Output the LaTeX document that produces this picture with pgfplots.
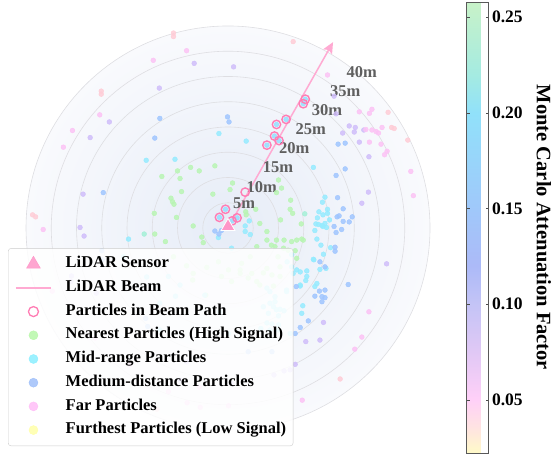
\documentclass[border=0pt]{standalone}
\usepackage{fontspec}
\setmainfont{Liberation Serif}
\usepackage{pgfplots}
\pgfplotsset{compat=1.18}
\usetikzlibrary{arrows.meta}
\definecolor{cgreen}{RGB}{185,245,180}
\definecolor{cteal}{RGB}{165,240,215}
\definecolor{ccyan}{RGB}{150,235,255}
\definecolor{cblue}{RGB}{160,198,255}
\definecolor{clav}{RGB}{208,190,250}
\definecolor{cpink}{RGB}{252,195,245}
\definecolor{cred}{RGB}{255,205,215}
\definecolor{cyel}{RGB}{255,255,170}
\definecolor{lgreen}{RGB}{185,248,170}
\definecolor{lcyan}{RGB}{140,240,255}
\definecolor{lblue}{RGB}{160,192,250}
\definecolor{lpink}{RGB}{255,190,248}
\definecolor{sensorpink}{RGB}{255,150,200}
\definecolor{beampink}{RGB}{255,170,210}
\definecolor{circpink}{RGB}{255,125,180}
\definecolor{ringgray}{RGB}{222,222,226}
\definecolor{labgray}{RGB}{95,95,95}
\definecolor{bgin}{RGB}{230,236,247}
\definecolor{bgout}{RGB}{249,250,253}
\tikzset{rlab/.style={font=\fontsize{16.5}{18}\selectfont\bfseries, text=labgray, inner sep=0pt}}
\begin{document}
\begin{tikzpicture}
\begin{axis}[
  at={(0pt,0pt)}, anchor=south west,
  x=5.05pt, y=5.05pt,
  xmin=-45.15, xmax=40.6, ymin=-45.35, ymax=45.15,
  hide axis, clip=false,
  point meta min=0.0224, point meta max=0.2578,
  colormap={pastel}{rgb255(0pt)=(255,250,200); rgb255(55pt)=(255,228,225); rgb255(119pt)=(255,208,248); rgb255(225pt)=(224,200,245); rgb255(330pt)=(196,196,246); rgb255(415pt)=(172,186,248); rgb255(540pt)=(160,200,250); rgb255(754pt)=(145,225,250); rgb255(840pt)=(165,235,225); rgb255(1000pt)=(200,242,200)},
  colorbar,
  colorbar style={
    at={(parent axis.north east)}, anchor=north west, xshift=25pt, yshift=-2pt,
    width=22pt, height=451pt, scale only axis,
    ytick={0.05,0.10,0.15,0.20,0.25},
    yticklabel style={font=\fontsize{17.5}{20}\selectfont\bfseries, /pgf/number format/.cd, fixed, fixed zerofill, precision=2, assume math mode=true},
    ylabel={Monte Carlo Attenuation Factor},
    ylabel style={font=\fontsize{20.5}{24}\selectfont\bfseries, rotate=180},
    ylabel shift=7pt,
    axis line style={draw=black!65},
    major tick length=3pt, tick style={black!70},
  },
  legend cell align=left,
  legend style={at={(axis description cs:0.0185,0.457)}, anchor=north west,
    draw=black!20, fill=white, fill opacity=0.85, text opacity=1, rounded corners=3pt,
    font=\fontsize{16.5}{19}\selectfont\bfseries,
    inner xsep=7pt, inner ysep=4pt, row sep=0pt,
    nodes={inner sep=0pt, text height=15.5pt, text depth=8.2pt},
    /tikz/every odd column/.append style={column sep=14pt}},
]
% legend entries
\addlegendimage{legend image code/.code={\draw[sensorpink, mark=triangle*, mark size=8pt] plot coordinates {(17.5pt,0pt)};}}
\addlegendentry{LiDAR Sensor}
\addlegendimage{legend image code/.code={\draw[beampink, line width=1.5pt] (0pt,0pt) -- (35pt,0pt);}}
\addlegendentry{LiDAR Beam}
\addlegendimage{legend image code/.code={\draw[circpink, line width=1.3pt, mark=o, mark size=5pt] plot coordinates {(17.5pt,0pt)};}}
\addlegendentry{Particles in Beam Path}
\addlegendimage{legend image code/.code={\draw[lgreen, mark=*, mark size=4.5pt] plot coordinates {(17.5pt,0pt)};}}
\addlegendentry{Nearest Particles (High Signal)}
\addlegendimage{legend image code/.code={\draw[lcyan, mark=*, mark size=4.5pt] plot coordinates {(17.5pt,0pt)};}}
\addlegendentry{Mid-range Particles}
\addlegendimage{legend image code/.code={\draw[lblue, mark=*, mark size=4.5pt] plot coordinates {(17.5pt,0pt)};}}
\addlegendentry{Medium-distance Particles}
\addlegendimage{legend image code/.code={\draw[lpink, mark=*, mark size=4.5pt] plot coordinates {(17.5pt,0pt)};}}
\addlegendentry{Far Particles}
\addlegendimage{legend image code/.code={\draw[cyel, mark=*, mark size=4.5pt] plot coordinates {(17.5pt,0pt)};}}
\addlegendentry{Furthest Particles (Low Signal)}

% background disc and range rings
\shade[inner color=bgin, outer color=bgout] (axis cs:0,0) circle[radius=40];
\pgfplotsinvokeforeach{5,10,15,20,25,30,35,40}{\draw[ringgray, line width=0.6pt] (axis cs:0,0) circle[radius=#1];}

% particles
\addplot[forget plot, only marks, mark=*, mark size=2.4pt, color=cgreen, mark options={draw=none, fill opacity=0.85}] coordinates {
(-7.4,12.0) (-5.7,11.3) (-2.6,12.3) (-10.0,11.3) (-13.1,10.2) (-9.5,9.8) (-9.2,7.2) (-11.3,5.9) (-11.0,5.2) (-10.7,4.7)
(-3.0,6.7) (0.9,8.9) (0.4,7.6) (5.5,3.7) (3.5,3.2) (3.6,2.6) (10.0,9.5) (10.6,7.9) (9.6,7.0) (12.4,5.5) (12.3,3.7) (12.8,2.9)
(10.4,1.6) (14.5,0.8) (6.3,0.9) (7.7,-0.7) (-6.9,0.4) (-5.2,-1.8) (-4.9,-2.9) (-12.4,-2.7) (-14.6,2.9) (-10.2,2.1) (-14.5,-1.2)
(5.7,-3.7) (8.6,-3.4) (9.6,-2.4) (11.1,-2.4) (12.6,-2.7) (13.6,-2.4) (14.6,-2.2) (11.9,-4.4) (13.3,-4.5) (9.9,-5.7) (13.6,-6.0)
(9.3,-3.7) (11.0,-4.0) (7.7,-2.4) (-10.8,-5.7) (-8.2,-7.5) (-4.2,-7.8) (-6.9,-9.0) (-1.9,-6.7) (0.1,-8.3) (2.7,-7.0) (2.4,-8.3)
(4.4,-5.7) (4.0,-9.9) (7.7,-8.0) (5.7,-10.6) (-1.3,-9.6) (0.7,-10.6) (2.4,-9.0) (4.7,-9.0) (7.0,-8.9) (8.7,-9.3) (10.3,-9.6)
(6.3,-11.3) (9.0,-11.5) (-7.0,-10.3) (-4.4,-13.3) (10.3,-7.7) (14.9,-2.4)
};
\addplot[forget plot, only marks, mark=*, mark size=2.4pt, color=cteal, mark options={draw=none, fill opacity=0.85}] coordinates {
(15.2,2.8) (-16.6,-1.2)
};
\addplot[forget plot, only marks, mark=*, mark size=2.4pt, color=ccyan, mark options={draw=none, fill opacity=0.85}] coordinates {
(-16.2,13.4) (-10.5,13.6) (-1.8,18.7) (3.6,17.2) (16.9,12.0) (19.2,6.1) (18.7,5.1) (19.7,3.7) (18.0,3.2) (18.8,2.6) (19.7,2.9)
(20.1,1.6) (17.7,2.0) (17.4,0.8) (17.9,0.7) (18.6,0.5) (19.2,0.9) (19.5,0.1) (18.8,0.3) (17.2,-0.5) (17.6,-2.2) (18.4,-3.4)
(20.3,-3.9) (18.9,-5.2) (17.0,-6.3) (18.2,-8.2) (19.4,-8.0) (15.6,-8.5) (14.3,-8.7) (15.4,-10.4) (17.6,-11.0) (17.2,-11.6)
(14.3,-11.5) (14.8,-15.4) (14.6,-16.9) (16.9,-6.2) (12.6,-5.3) (11.7,-6.7) (12.6,-7.7) (13.6,-8.3) (8.3,-12.6) (9.3,-13.6)
(11.6,-12.6) (12.9,-9.0) (15.6,-9.6) (7.7,-11.9) (11.6,-12.3) (14.3,-11.3)
(7.0,-15.6) (8.3,-14.9) (9.3,-14.6) (9.0,-15.6) (10.3,-16.1) (11.1,-16.4) (9.6,-16.2) (8.0,-16.9) (10.0,-17.4) (7.7,-18.8)
(8.7,-19.0) (10.0,-19.2) (6.5,-19.9) (8.3,-20.2) (10.0,-20.2) (12.3,-20.9) (0.1,-20.9) (-1.7,-16.6)
(3.4,0.4) (3.4,-0.7) (4.4,-1.3) (0.7,-4.0) (-1.9,-1.9) (4.2,1.4)
(-19.7,-2.2) (-20.7,-5.7) (-16.1,-9.7) (-11.8,-9.6) (-9.5,-11.3) (-10.4,-13.5) (-13.5,-14.9) (-13.5,-20.2) (-4.6,-13.3)
};
\addplot[forget plot, only marks, mark=*, mark size=2.4pt, color=cblue, mark options={draw=none, fill opacity=0.85}] coordinates {
(-14.5,17.8) (-13.5,21.7) (-0.1,22.0) (0.2,21.0) (23.2,11.7) (21.4,10.4) (21.7,6.0) (22.8,3.8) (21.6,2.2) (22.0,2.4) (24.6,2.2)
(22.8,1.3) (24.0,1.2) (21.0,0.3) (22.5,-0.3) (21.4,-0.9) (21.2,-4.6) (21.2,-3.8) (23.8,-11.2) (18.1,-12.5) (19.2,-12.3)
(17.2,-13.5) (19.2,-13.8) (18.6,-14.6) (15.9,-18.4) (14.3,-19.7) (18.2,-6.7) (19.2,-7.7) (18.6,-13.6) (13.3,-20.9)
(4.0,-24.5) (8.7,-24.5) (-24.7,7.0) (-25.0,-4.5) (-24.9,-6.3) (-16.3,-17.9) (-15.9,-19.5) (-2.6,-0.6) (-1.3,-0.5) (-1.8,-1.2)
(13.5,-11.6) (21.8,16.6) (23.2,16.8)
};
\addplot[forget plot, only marks, mark=*, mark size=2.4pt, color=clav, mark options={draw=none, fill opacity=0.85}] coordinates {
(-13.6,27.7) (-23.5,21.0) (-27.3,17.9) (-6.7,32.6) (1.1,31.9) (21.0,26.1) (21.4,22.6) (24.0,20.2) (25.2,19.9) (26.9,19.4)
(22.7,18.8) (25.0,19.0) (26.0,17.0) (27.9,14.1) (27.8,7.1) (26.5,4.9) (31.4,-7.1) (18.9,-18.7) (15.4,-22.5) (18.2,-22.2)
(9.1,-29.1) (11.1,-28.3) (12.3,-28.1) (13.3,-27.0) (0.7,-30.8) (-9.5,-30.1) (-28.7,6.7) (-29.3,0.1) (-28.5,-1.6)
(-31.0,-9.5) (-31.1,-10.6) (-26.1,-12.9) (-8.2,-26.5)
};
\addplot[forget plot, only marks, mark=*, mark size=2.4pt, color=cpink, mark options={draw=none, fill opacity=0.85}] coordinates {
(-14.8,33.2) (-25.4,22.4) (-30.8,19.3) (-32.6,16.0) (-8.2,35.1) (19.7,30.3) (26.0,23.0) (28.5,23.5) (28.0,22.7) (27.3,19.5)
(28.5,19.4) (29.3,19.1) (29.8,18.8) (30.5,19.9) (28.0,17.0) (30.3,16.6) (31.5,15.2) (31.0,14.5) (36.2,11.2) (36.7,6.4)
(27.9,-16.6) (26.5,-21.6) (25.1,-24.0) (14.7,-34.1) (-5.7,-31.5) (-11.8,-32.4) (-8.1,-34.6) (-5.5,-35.5) (0.1,-35.2)
(-36.6,-0.3) (-34.8,-12.5) (-26.3,-21.8) (-19.4,-27.1)
};
\addplot[forget plot, only marks, mark=*, mark size=2.4pt, color=cred, mark options={draw=none, fill opacity=0.85}] coordinates {
(-25.1,27.1) (-25.1,26.5) (-10.8,38.6) (-10.8,37.9) (12.9,36.9) (31.7,22.9) (32.4,19.9) (32.9,19.7) (35.6,17.4)
(-38.7,2.6) (-38.1,2.2) (22.2,-29.9) (-14.1,-35.9)
};
% particles inside beam circles
\addplot[forget plot, only marks, mark=*, mark size=2.4pt, color=ccyan!70!cblue, mark options={draw=none, fill opacity=0.9}] coordinates {
(15.3,25.5) (14.9,24.6) (11.5,21.5) (9.6,20.5) (9.2,18.2) (10.1,17.3) (7.7,16.4) (-1.7,2.1) (-0.5,3.7) (1.8,2.0) (0.8,1.4)
};

% beam
\addplot[forget plot, beampink, line width=1.5pt, -{Stealth[length=11pt, width=10pt, inset=2pt]}] coordinates {(0,0) (20.8,36.8)};
% particles in beam path
\addplot[forget plot, only marks, mark=o, mark size=4.2pt, color=circpink, line width=1.4pt] coordinates {
(15.3,25.5) (14.9,24.6) (11.5,21.5) (9.6,20.5) (9.2,18.2) (10.1,17.3) (7.7,16.4) (3.4,7.1) (-1.7,2.1) (-0.5,3.7) (1.8,2.0) (0.8,1.4)
};
% sensor
\addplot[forget plot, only marks, mark=triangle*, mark size=8pt, color=sensorpink, mark options={draw=white, line width=0.8pt}] coordinates {(0,0.3)};

% range labels
\node[rlab] at (axis cs:3.2,5.0) {5m};
\node[rlab] at (axis cs:6.7,8.1) {10m};
\node[rlab] at (axis cs:9.9,12.1) {15m};
\node[rlab] at (axis cs:13.1,15.8) {20m};
\node[rlab] at (axis cs:16.4,19.6) {25m};
\node[rlab] at (axis cs:19.6,23.4) {30m};
\node[rlab] at (axis cs:23.2,27.1) {35m};
\node[rlab] at (axis cs:26.5,30.9) {40m};
\end{axis}
\path (0pt,0pt) rectangle (557pt,457pt);
\end{tikzpicture}
\end{document}
